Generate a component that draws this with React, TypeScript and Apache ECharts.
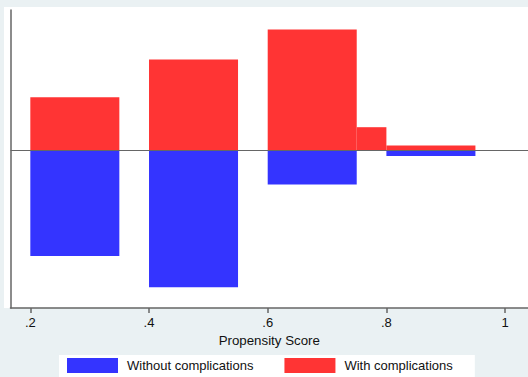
import React, { useEffect, useRef } from "react";
import * as echarts from "echarts";

// bins: [start, end]
const binStarts = [0.2, 0.4, 0.6, 0.75, 0.8];
const binEnds = [0.35, 0.55, 0.75, 0.8, 0.95];
const withComplications = [1.32, 2.26, 3.01, 0.57, 0.11];
const withoutComplications = [-2.65, -3.43, -0.86, 0, -0.15];
const tickValues = [0.2, 0.4, 0.6, 0.8, 1];
const seriesNames = ["Without complications", "With complications"];

const FONT = "'Liberation Sans', Arial, Helvetica, sans-serif";

export default function App() {
  const ref = useRef<HTMLDivElement>(null);
  useEffect(() => {
    if (!ref.current) return;
    const chart = echarts.init(ref.current, null, { renderer: "svg" });
    const mk = (vals: number[]) =>
      vals
        .map((v, i) => [binStarts[i], binEnds[i], v])
        .filter((d) => d[2] !== 0);
    const renderItem = (params: any, api: any) => {
      const x0 = api.value(0);
      const x1 = api.value(1);
      const y = api.value(2);
      const p0 = api.coord([x0, 0]);
      const p1 = api.coord([x1, y]);
      return {
        type: "rect",
        shape: {
          x: p0[0],
          y: Math.min(p0[1], p1[1]),
          width: p1[0] - p0[0],
          height: Math.abs(p1[1] - p0[1]),
        },
        style: { fill: api.visual("color") },
      };
    };
    chart.setOption({
      animation: false,
      backgroundColor: "#eaf1f3",
      textStyle: { fontFamily: FONT },
      graphic: [
        {
          type: "rect",
          z: -10,
          silent: true,
          shape: { x: 4, y: 7, width: 524, height: 301 },
          style: { fill: "#ffffff" },
        },
      ],
      grid: { left: 10.5, right: 0, top: 10, bottom: 69 },
      legend: {
        left: 59,
        top: 355,
        backgroundColor: "#ffffff",
        padding: [3, 22, 4, 8],
        itemWidth: 51,
        itemHeight: 15,
        itemGap: 31,
        icon: "rect",
        data: seriesNames,
        textStyle: {
          fontFamily: FONT,
          fontSize: 13,
          color: "#111",
          padding: [0, 0, 0, 4],
        },
      },
      xAxis: {
        type: "value",
        min: 0.1666,
        max: 1.0386,
        name: "Propensity Score",
        nameLocation: "middle",
        nameGap: 22,
        nameTextStyle: { fontFamily: FONT, fontSize: 13.3, color: "#111" },
        splitLine: { show: false },
        axisLine: { show: true, onZero: false, lineStyle: { color: "#666", width: 1.5 } },
        axisTick: {
          show: true,
          length: 5,
          customValues: tickValues,
          lineStyle: { color: "#666", width: 1.5 },
        },
        axisLabel: {
          show: true,
          margin: 8,
          customValues: tickValues,
          fontFamily: FONT,
          fontSize: 13,
          color: "#111",
          formatter: (v: number) =>
            v === 1 ? "1" : String(v).replace(/^0\./, "."),
        },
      },
      yAxis: {
        type: "value",
        min: -3.95,
        max: 3.5,
        splitLine: { show: false },
        axisLine: { show: true, onZero: false, lineStyle: { color: "#666", width: 1.5 } },
        axisTick: { show: false },
        axisLabel: { show: false },
      },
      series: [
        {
          name: seriesNames[0],
          type: "custom",
          renderItem,
          itemStyle: { color: "#3434ff" },
          encode: { x: [0, 1], y: 2 },
          data: mk(withoutComplications),
        },
        {
          name: seriesNames[1],
          type: "custom",
          renderItem,
          itemStyle: { color: "#ff3434" },
          encode: { x: [0, 1], y: 2 },
          data: mk(withComplications),
          markLine: {
            silent: true,
            symbol: "none",
            label: { show: false },
            lineStyle: { color: "#666", width: 1.2, type: "solid" },
            data: [{ yAxis: 0 }],
          },
        },
      ],
    });
    return () => chart.dispose();
  }, []);
  return (
    <div
      ref={ref}
      style={{ position: "fixed", left: 0, top: 0, width: 528, height: 377 }}
    />
  );
}
